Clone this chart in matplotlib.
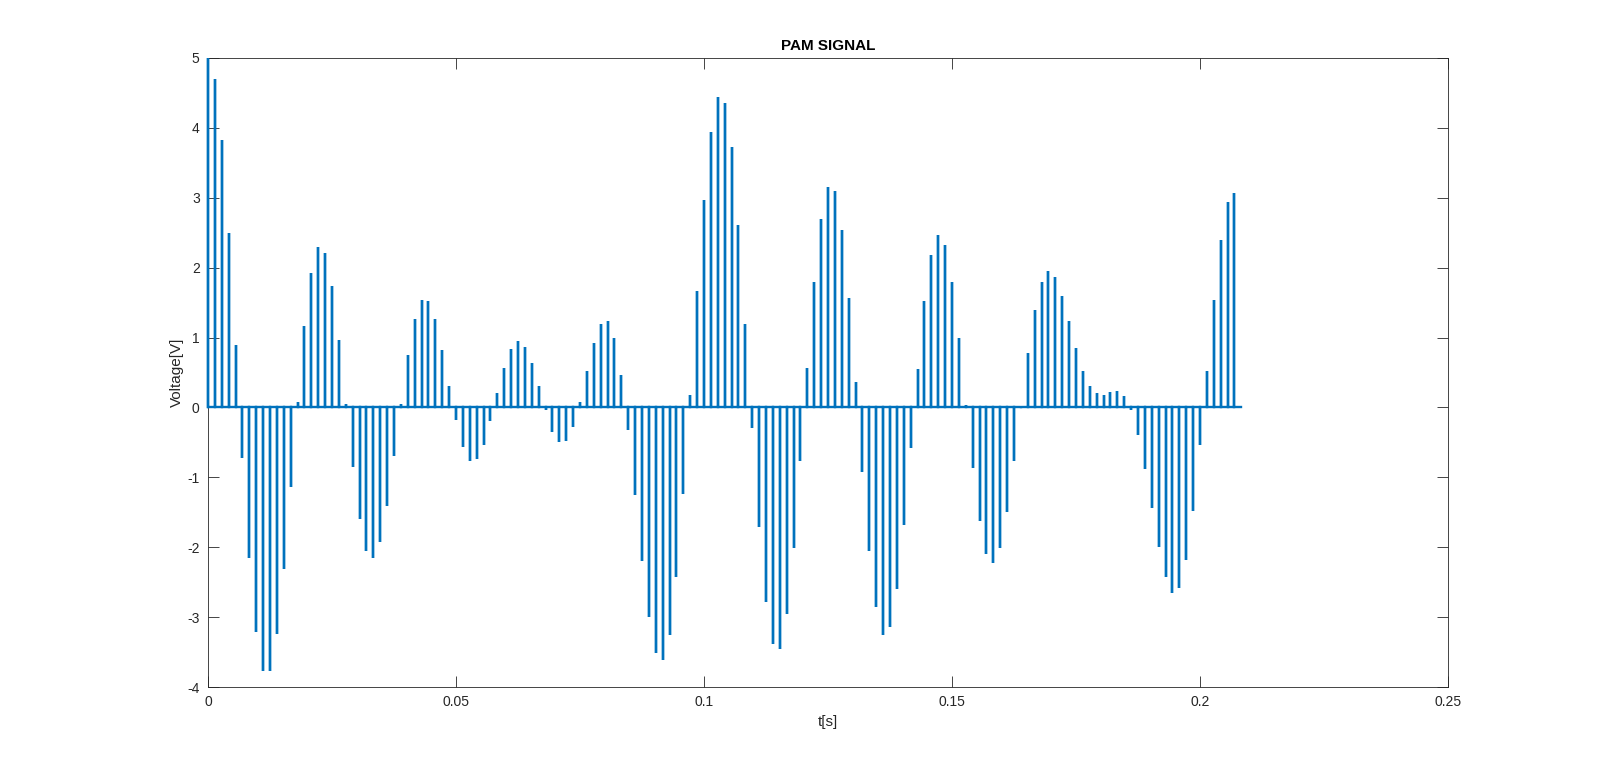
import numpy as np
import matplotlib.pyplot as plt

plt.rcParams['font.family'] = ['Liberation Sans', 'DejaVu Sans']
plt.rcParams['axes.unicode_minus'] = False

# sample rate of the PAM pulses and the sampled amplitudes [V]
fs = 720
amps = [5.0, 4.70, 3.82, 2.49, 0.89, -0.72, -2.16, -3.21, -3.77, -3.77,
        -3.24, -2.31, -1.14, 0.08, 1.16, 1.93, 2.29, 2.21, 1.74, 0.97,
        0.05, -0.85, -1.59, -2.05, -2.16,
        -1.93, -1.41, -0.70, 0.05, 0.75, 1.27, 1.53, 1.52, 1.27, 0.82,
        0.31, -0.18, -0.56, -0.76, -0.74, -0.54, -0.20, 0.20, 0.57, 0.84,
        0.95, 0.87, 0.63, 0.30,
        -0.03, -0.35, -0.50, -0.48, -0.28, 0.08, 0.52, 0.92, 1.19, 1.23,
        0.99, 0.46, -0.32, -1.25, -2.20, -3.00, -3.51, -3.61, -3.25, -2.43,
        -1.24, 0.18, 1.66, 2.97, 3.94,
        4.44, 4.36, 3.72, 2.61, 1.20, -0.30, -1.71, -2.78, -3.39, -3.45,
        -2.96, -2.01, -0.77, 0.56, 1.79, 2.70, 3.16, 3.10, 2.54, 1.57,
        0.36, -0.92, -2.05, -2.86, -3.25,
        -3.14, -2.59, -1.68, -0.58, 0.55, 1.52, 2.18, 2.46, 2.32, 1.79,
        0.99, 0.04, -0.86, -1.63, -2.09, -2.22, -2.01, -1.49, -0.77, 0.02,
        0.78, 1.40, 1.80, 1.95, 1.87,
        1.60, 1.24, 0.85, 0.52, 0.31, 0.20, 0.18, 0.22, 0.24, 0.16,
        -0.03, -0.39, -0.88, -1.44, -2.00, -2.43, -2.65, -2.58, -2.18, -1.48,
        -0.54, 0.52, 1.54, 2.40, 2.94, 3.07]

xticks = [0, 0.05, 0.1, 0.15, 0.2, 0.25]
xticklabels = ['0', '0.05', '0.1', '0.15', '0.2', '0.25']
yticks = list(range(-4, 6))

amps = np.array(amps)
tn = np.arange(len(amps)) / fs
t_end = len(amps) / fs

# pulse train: 0 -> amplitude -> 0 at each sample instant, then flat to the end
t = np.concatenate([np.repeat(tn, 3), [t_end]])
v = np.concatenate([np.column_stack([np.zeros_like(amps), amps, np.zeros_like(amps)]).ravel(), [0]])

fig = plt.figure(figsize=(16, 7.72), dpi=100)
ax = fig.add_axes([0.13, 0.11, 0.775, 0.815])
ax.plot(t, v, color='#0072BD', linewidth=1.7, solid_joinstyle='miter',
        zorder=3, clip_on=False)

ax.set_xlim(0, 0.25)
ax.set_ylim(-4, 5)
ax.set_xticks(xticks)
ax.set_xticklabels(xticklabels)
ax.set_yticks(yticks)
ax.tick_params(direction='in', length=8, width=0.6, top=True, right=True,
               labelsize=10, colors='#262626', pad=6)
for s in ax.spines.values():
    s.set_color('#262626')
    s.set_linewidth(0.6)

ax.set_title('PAM SIGNAL', fontsize=11, fontweight='bold', color='black', pad=6)
ax.set_xlabel('t[s]', fontsize=11, color='#262626')
ax.set_ylabel('Voltage[V]', fontsize=11, color='#262626', labelpad=2)

fig.savefig('out.png', dpi=100)
